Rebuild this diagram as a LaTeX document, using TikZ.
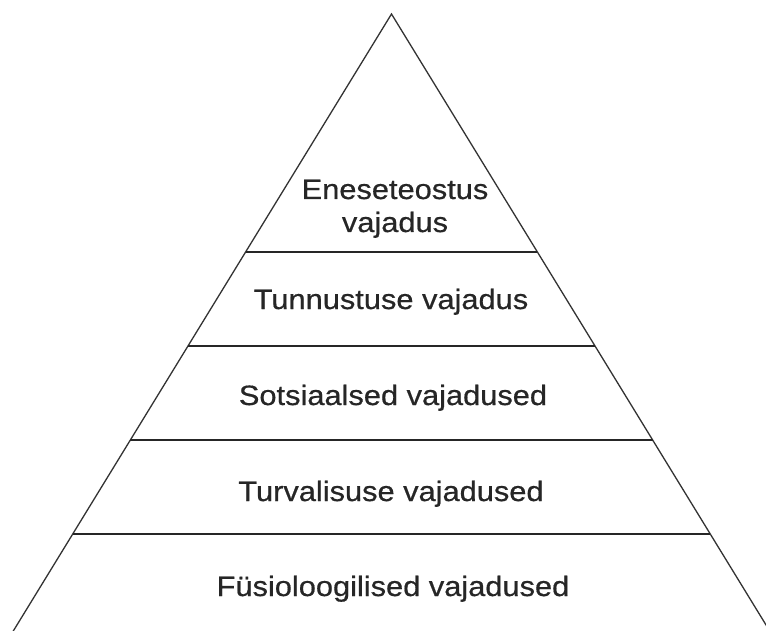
\documentclass[tikz,border=0pt]{standalone}
\usepackage{fontspec}
\setmainfont[FakeStretch=1.1,FakeBold=0.6]{Liberation Sans}
\begin{document}
\begin{tikzpicture}[x=1pt,y=-1pt,
  edge/.style={draw=black!80, line width=1.3pt},
  level/.style={draw=black!85, line width=1.6pt},
  lbl/.style={anchor=base, inner sep=0pt, text=black!85, font=\fontsize{28}{33}\selectfont, align=center}]
\useasboundingbox[fill=white] (0,0) rectangle (766,631);
\clip (0,0) rectangle (766,631);
% apex and base corners (base lies below the picture)
\coordinate (apex) at (391.5,14);
\coordinate (bl) at (391.5-0.613*640,654);
\coordinate (br) at (391.5+0.613*640,654);
\draw[edge] (bl) -- (apex) -- (br);
% level dividers
\coordinate (l1a) at (245.6,252); \coordinate (l1b) at (537.4,252);
\coordinate (l2a) at (188.0,346); \coordinate (l2b) at (595.0,346);
\coordinate (l3a) at (130.4,440); \coordinate (l3b) at (652.6,440);
\coordinate (l4a) at (72.7,534);  \coordinate (l4b) at (710.3,534);
\draw[level] (l1a) -- (l1b);
\draw[level] (l2a) -- (l2b);
\draw[level] (l3a) -- (l3b);
\draw[level] (l4a) -- (l4b);
% labels
\node[lbl] (t1) at (395,232) {Eneseteostus\\vajadus};
\node[lbl] (t2) at (391,309) {Tunnustuse vajadus};
\node[lbl] (t3) at (393,405) {Sotsiaalsed vajadused};
\node[lbl] (t4) at (391,501) {Turvalisuse vajadused};
\node[lbl] (t5) at (393,596) {Füsioloogilised vajadused};
\end{tikzpicture}
\end{document}
